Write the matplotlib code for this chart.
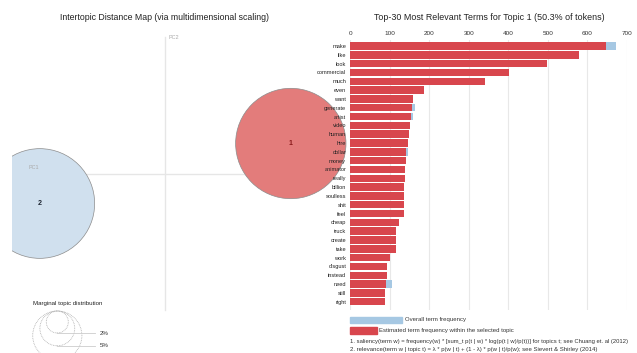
import numpy as np
import matplotlib.pyplot as plt
from matplotlib.patches import Circle, Rectangle

plt.rcParams['font.family'] = ['Liberation Sans', 'DejaVu Sans']

# top-30 terms for topic 1
terms = ["make", "like", "look", "commercial", "much", "even", "want", "generate",
         "artist", "video", "human", "hire", "dollar", "money", "animator", "really",
         "billion", "soulless", "shit", "feel", "cheap", "truck", "create", "take",
         "work", "disgust", "instead", "need", "still", "right"]
topic_freq = [647, 578, 497, 402, 342, 186, 160, 155, 153, 150, 148, 147, 141, 140,
              138, 138, 137, 137, 135, 135, 123, 117, 117, 117, 100, 93, 94, 90, 89, 87]
overall_freq = [672, 578, 497, 402, 342, 186, 160, 165, 158, 150, 148, 147, 146, 140,
                138, 138, 137, 137, 135, 135, 123, 117, 117, 117, 100, 93, 94, 106, 89, 87]

# topic positions from MDS and their token share
topic_ids = ["1", "2"]
pc1 = [0.251, -0.251]
pc2 = [0.061, -0.059]
token_share = [50.3, 49.7]
marginal_levels = [2, 5, 10]
marginal_labels = ["2%", "5%", ""]

W, H = 637, 353
fig = plt.figure(figsize=(W / 100, H / 100), dpi=100)

red = "#d8464d"
blue = "#a6c8e3"

# ---- intertopic distance map ----
scale = 500.0
ox, oy = 165.3, 174.0
axl = fig.add_axes([12 / W, 0, (360 - 12) / W, 1])
axl.set_xlim((12 - ox) / scale, (360 - ox) / scale)
axl.set_ylim((oy - H) / scale, oy / scale)
axl.axis("off")
axl.patch.set_alpha(0)

rk = 7.78 / scale
axl.plot([(27 - ox) / scale, (304 - ox) / scale], [0, 0], color="#e6e6e6", lw=1, zorder=1)
axl.plot([0, 0], [(oy - 310) / scale, (oy - 37) / scale], color="#e6e6e6", lw=1, zorder=1)
axl.text((28 - ox) / scale, 0.008, "PC1", fontsize=4, color="#aaaaaa", va="bottom")
axl.text(0.006, (oy - 38) / scale, "PC2", fontsize=4, color="#aaaaaa", va="center")

cols = ["#e37c7b", "#d0e0ee"]
lab_cols = ["#8a1a1a", "#1c2430"]
for i in range(len(topic_ids)):
    r = rk * np.sqrt(token_share[i])
    axl.add_patch(Circle((pc1[i], pc2[i]), r, facecolor=cols[i], edgecolor="#8c8c8c",
                         lw=0.5, zorder=2))
    axl.text(pc1[i], pc2[i], topic_ids[i], fontsize=5, color=lab_cols[i],
             ha="center", va="center", fontweight="bold", zorder=3)

# marginal topic distribution legend
mx, mtop = (57.3 - ox) / scale, (oy - 311) / scale
axl.text((33 - ox) / scale, (oy - 303) / scale, "Marginal topic distribution",
         fontsize=4.4, color="#222222", va="center")
for p, lab in zip(marginal_levels, marginal_labels):
    r = rk * np.sqrt(p)
    axl.add_patch(Circle((mx, mtop - r), r, facecolor="none", edgecolor="#b0b0b0",
                         lw=0.6, ls=(0, (1, 1))))
    axl.plot([mx, (95 - ox) / scale], [mtop - 2 * r, mtop - 2 * r], color="#cccccc", lw=0.6)
    if lab:
        axl.text((100 - ox) / scale, mtop - 2 * r, lab, fontsize=4.4, color="#333333",
                 va="center")

fig.text(165 / W, 1 - 18 / H, "Intertopic Distance Map (via multidimensional scaling)",
         fontsize=6.3, ha="center", va="center", color="#222222")

# ---- relevant terms bar chart ----
axr = fig.add_axes([350.3 / W, 1 - 310 / H, (626.7 - 350.3) / W, 270 / H])
axr.patch.set_alpha(0)
y = np.arange(len(terms))
axr.barh(y, overall_freq, height=0.85, color=blue, zorder=2)
axr.barh(y, topic_freq, height=0.85, color=red, zorder=3)
axr.set_xlim(0, 700)
axr.set_ylim(29.94, -0.68)
axr.set_xticks(range(0, 701, 100))
axr.xaxis.tick_top()
axr.tick_params(axis="x", length=0, labelsize=4.6, pad=3, labelcolor="#333333")
axr.set_yticks(y)
axr.set_yticklabels(terms)
axr.tick_params(axis="y", length=0, labelsize=4.1, pad=3, labelcolor="#222222")
axr.grid(axis="x", color="#e8e8e8", lw=0.8, zorder=0)
for s in axr.spines.values():
    s.set_visible(False)

fig.text(489 / W, 1 - 18 / H, "Top-30 Most Relevant Terms for Topic 1 (50.3% of tokens)",
         fontsize=6.4, ha="center", va="center", color="#222222")

# legend and footnotes
fig.add_artist(Rectangle((350.3 / W, 1 - 323.3 / H), 52 / W, 6.6 / H,
                         transform=fig.transFigure, color=blue))
fig.add_artist(Rectangle((350.3 / W, 1 - 334 / H), 26.4 / W, 7.3 / H,
                         transform=fig.transFigure, color=red))
fig.text(405.3 / W, 1 - 320 / H, "Overall term frequency", fontsize=4.35, va="center",
         color="#333333")
fig.text(379.3 / W, 1 - 330.5 / H, "Estimated term frequency within the selected topic",
         fontsize=4.35, va="center", color="#333333")
fig.text(350 / W, 1 - 341.7 / H,
         "1. saliency(term w) = frequency(w) * [sum_t p(t | w) * log(p(t | w)/p(t))] for topics t; see Chuang et. al (2012)",
         fontsize=4.2, va="center", color="#333333")
fig.text(350 / W, 1 - 349 / H,
         "2. relevance(term w | topic t) = \u03bb * p(w | t) + (1 - \u03bb) * p(w | t)/p(w); see Sievert & Shirley (2014)",
         fontsize=4.3, va="center", color="#333333")

fig.savefig("out.png", dpi=100)
